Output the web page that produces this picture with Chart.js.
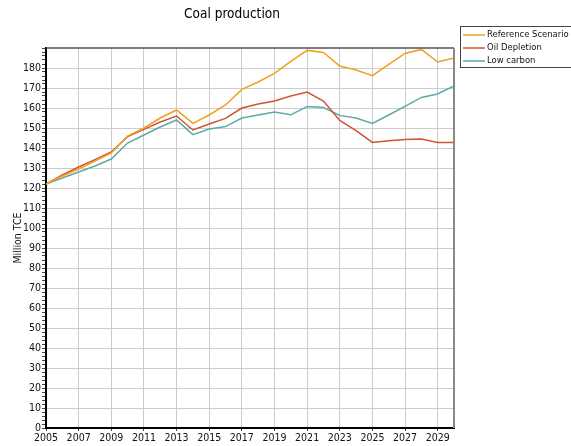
<!DOCTYPE html>
<html>
<head>
<meta charset="utf-8">
<script src="https://cdn.jsdelivr.net/npm/chart.js@4"></script>
<style>
  html, body { margin: 0; padding: 0; background: #fff; }
</style>
</head>
<body>
<canvas id="chart" width="571" height="446"></canvas>
<script>
const chartTitle = 'Coal production';
const yTitle = 'Million TCE';

const years = [2005, 2006, 2007, 2008, 2009, 2010, 2011, 2012, 2013, 2014, 2015, 2016, 2017,
               2018, 2019, 2020, 2021, 2022, 2023, 2024, 2025, 2026, 2027, 2028, 2029, 2030];

const referenceScenario = [122, 126, 129.5, 133.5, 137.5, 146, 150, 155, 159, 152.3, 156.5, 161.5, 169.3,
                           173, 177.3, 183.3, 188.8, 187.8, 181, 179, 176.2, 181.8, 187.3, 189.3, 183, 185];
const oilDepletion = [122, 126.5, 130.5, 134.2, 138, 145.7, 149.3, 153, 156, 149, 152, 154.8, 160,
                      162, 163.5, 166, 168, 163.5, 153.8, 148.7, 142.8, 143.6, 144.2, 144.5, 142.7, 142.7];
const lowCarbon = [122, 125, 128, 131, 134.5, 142.5, 146.5, 150.5, 154, 146.7, 149.5, 150.7, 155,
                   156.5, 158, 156.6, 160.7, 160.2, 156.3, 155, 152.3, 156.5, 160.8, 165.3, 167, 171];

const xTickYears = [2005, 2007, 2009, 2011, 2013, 2015, 2017, 2019, 2021, 2023, 2025, 2027, 2029];
const yTickLabels = [0, 10, 20, 30, 40, 50, 60, 70, 80, 90, 100, 110, 120, 130, 140, 150, 160, 170, 180];

const FONT = '"DejaVu Sans Condensed", "Liberation Sans", sans-serif';

function toPoints(values) {
  return values.map((v, i) => ({ x: years[i], y: v }));
}

const decor = {
  id: 'decor',
  afterDraw(chart) {
    const ctx = chart.ctx;
    const a = chart.chartArea;
    ctx.save();
    // frame top / right
    ctx.strokeStyle = '#555';
    ctx.lineWidth = 1.5;
    ctx.beginPath();
    ctx.moveTo(a.left, a.top);
    ctx.lineTo(a.right, a.top);
    ctx.stroke();
    ctx.strokeStyle = '#888';
    ctx.lineWidth = 2;
    ctx.beginPath();
    ctx.moveTo(a.right, a.top);
    ctx.lineTo(a.right, a.bottom);
    ctx.stroke();

    // title
    ctx.fillStyle = '#000';
    ctx.font = '13.5px ' + FONT;
    ctx.textAlign = 'center';
    ctx.textBaseline = 'middle';
    ctx.fillText(chartTitle, 232, 14);

    // legend
    ctx.strokeStyle = '#444';
    ctx.lineWidth = 1;
    ctx.strokeRect(460.5, 26.5, 112, 41);
    ctx.font = '9.4px ' + FONT;
    ctx.textAlign = 'left';
    chart.data.datasets.forEach((ds, i) => {
      const y = 35 + i * 13;
      ctx.strokeStyle = ds.borderColor;
      ctx.lineWidth = 1.5;
      ctx.beginPath();
      ctx.moveTo(463, y);
      ctx.lineTo(485, y);
      ctx.stroke();
      ctx.fillStyle = '#111';
      ctx.fillText(ds.label, 487, y);
    });
    ctx.restore();
  }
};

const ctx = document.getElementById('chart').getContext('2d');
const chart = new Chart(ctx, {
  type: 'line',
  data: {
    datasets: [
      { label: 'Reference Scenario', data: toPoints(referenceScenario), borderColor: '#f0a020' },
      { label: 'Oil Depletion', data: toPoints(oilDepletion), borderColor: '#cf5433' },
      { label: 'Low carbon', data: toPoints(lowCarbon), borderColor: '#5daaa6' }
    ]
  },
  options: {
    responsive: false,
    animation: false,
    devicePixelRatio: 1,
    layout: { padding: { left: 0, right: 117, top: 48, bottom: 0 } },
    elements: {
      line: { borderWidth: 1.5, tension: 0, fill: false },
      point: { radius: 0 }
    },
    plugins: {
      legend: { display: false },
      title: { display: false },
      tooltip: { enabled: false }
    },
    scales: {
      x: {
        type: 'linear',
        min: 2005,
        max: 2030,
        afterBuildTicks: (scale) => { scale.ticks = xTickYears.map(v => ({ value: v })); },
        afterFit: (scale) => { scale.height = 18; },
        border: { color: '#000', width: 2 },
        grid: { color: '#cccccc', lineWidth: 1, tickColor: '#444', tickLength: 3 },
        ticks: {
          autoSkip: false,
          maxRotation: 0,
          padding: 1,
          color: '#111',
          font: { family: FONT, size: 10.5 },
          callback: (v) => String(v)
        }
      },
      y: {
        min: 0,
        max: 190,
        afterFit: (scale) => { scale.width = 46; },
        border: { color: '#000', width: 2 },
        grid: {
          color: (c) => (c.tick && yTickLabels.includes(c.tick.value)) ? '#cccccc' : 'rgba(0,0,0,0)',
          lineWidth: 1,
          tickColor: '#444',
          tickLength: 4
        },
        title: {
          display: true,
          text: yTitle,
          color: '#111',
          font: { family: FONT, size: 10.5 },
          padding: { top: 12, bottom: 0 }
        },
        ticks: {
          stepSize: 2,
          autoSkip: false,
          padding: 1,
          color: '#111',
          font: { family: FONT, size: 10.5 },
          callback: (v) => yTickLabels.includes(v) ? String(v) : ''
        }
      }
    }
  },
  plugins: [decor]
});
</script>
</body>
</html>
